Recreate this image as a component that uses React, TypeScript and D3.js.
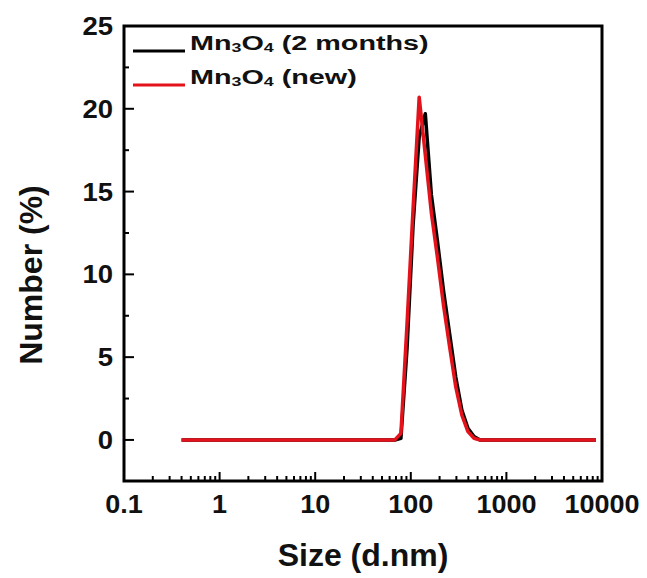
import React from "react";
import * as d3 from "d3";

// DLS size classes (d.nm)
const sizes = [
  0.4, 0.4632, 0.5365, 0.6213, 0.7195, 0.8332, 0.9649, 1.117, 1.294, 1.499,
  1.736, 2.01, 2.328, 2.696, 3.122, 3.615, 4.187, 4.849, 5.615, 6.503,
  7.531, 8.721, 10.1, 11.7, 13.54, 15.69, 18.17, 21.04, 24.36, 28.21,
  32.67, 37.84, 43.82, 50.75, 58.77, 68.06, 78.82, 91.28, 105.7, 122.4,
  141.8, 164.2, 190.1, 220.2, 255, 295.3, 342, 396.1, 458.7, 531.2,
  615.1, 712.4, 825, 955.4, 1106, 1281, 1484, 1718, 1990, 2305,
  2669, 3091, 3580, 4145, 4801, 5560, 6439, 7456, 8635,
];

// Number (%) - Mn3O4 after 2 months
const twoMonths = [
  0, 0, 0, 0, 0, 0, 0, 0, 0, 0,
  0, 0, 0, 0, 0, 0, 0, 0, 0, 0,
  0, 0, 0, 0, 0, 0, 0, 0, 0, 0,
  0, 0, 0, 0, 0, 0, 0.1, 5.5, 13.0, 18.3,
  19.7, 14.8, 12.0, 9.0, 6.4, 3.8, 1.8, 0.7, 0.2, 0,
  0, 0, 0, 0, 0, 0, 0, 0, 0, 0,
  0, 0, 0, 0, 0, 0, 0, 0, 0,
];

// Number (%) - Mn3O4 new
const fresh = [
  0, 0, 0, 0, 0, 0, 0, 0, 0, 0,
  0, 0, 0, 0, 0, 0, 0, 0, 0, 0,
  0, 0, 0, 0, 0, 0, 0, 0, 0, 0,
  0, 0, 0, 0, 0, 0, 0.4, 7.0, 14.0, 20.7,
  17.2, 13.7, 11.0, 8.1, 5.6, 3.2, 1.5, 0.5, 0.1, 0,
  0, 0, 0, 0, 0, 0, 0, 0, 0, 0,
  0, 0, 0, 0, 0, 0, 0, 0, 0,
];

const xMajor = [0.1, 1, 10, 100, 1000, 10000];
const xLabels = ["0.1", "1", "10", "100", "1000", "10000"];
const yMajor = [0, 5, 10, 15, 20, 25];
const yMinor = [2.5, 7.5, 12.5, 17.5, 22.5];

const series = [
  { name: "(2 months)", values: twoMonths, color: "#000000" },
  { name: "(new)", values: fresh, color: "#e3121b" },
];

const font = "'Liberation Sans', Arial, sans-serif";

const App = () => {
  const W = 647;
  const H = 578;
  const left = 124;
  const right = 602;
  const top = 26;
  const bottom = 481;

  const x = d3.scaleLog().domain([0.1, 10000]).range([left, right]);
  const y = d3.scaleLinear().domain([-2.48, 25]).range([bottom, top]);

  const xMinor = x.ticks().filter((t) => !xMajor.some((m) => Math.abs(m - t) < 1e-9));

  const line = (vals: number[]) =>
    d3
      .line<number>()
      .x((_, i) => x(sizes[i]))
      .y((d) => y(d))(vals) || "";

  return (
    <div style={{ position: "fixed", left: 0, top: 0 }}>
      <svg width={W} height={H} style={{ display: "block", background: "#fff" }}>
        {/* curves */}
        {series.map((s) => (
          <path
            key={s.name}
            d={line(s.values)}
            fill="none"
            stroke={s.color}
            strokeWidth={3.5}
            strokeLinejoin="round"
          />
        ))}

        {/* x ticks, pointing inward */}
        {xMinor.map((t) => (
          <line key={"xm" + t} x1={x(t)} x2={x(t)} y1={bottom} y2={bottom - 5} stroke="#000" strokeWidth={2} />
        ))}
        {xMajor.map((t, i) => (
          <g key={"xM" + t}>
            <line x1={x(t)} x2={x(t)} y1={bottom} y2={bottom - 9} stroke="#000" strokeWidth={2} />
            <text
              transform={`translate(${x(t)},513) scale(1.08,1)`}
              textAnchor="middle"
              fontFamily={font}
              fontSize={25}
              fontWeight="bold"
              fill="#111"
            >
              {xLabels[i]}
            </text>
          </g>
        ))}

        {/* y ticks */}
        {yMinor.map((t) => (
          <line key={"ym" + t} x1={left} x2={left + 5} y1={y(t)} y2={y(t)} stroke="#000" strokeWidth={2} />
        ))}
        {yMajor.map((t) => (
          <g key={"yM" + t}>
            <line x1={left} x2={left + 10} y1={y(t)} y2={y(t)} stroke="#000" strokeWidth={2} />
            <text
              transform={`translate(113,${y(t)}) scale(1.1,1)`}
              dy="0.36em"
              textAnchor="end"
              fontFamily={font}
              fontSize={25}
              fontWeight="bold"
              fill="#111"
            >
              {t}
            </text>
          </g>
        ))}

        {/* frame */}
        <rect
          x={left}
          y={top}
          width={right - left}
          height={bottom - top}
          fill="none"
          stroke="#000"
          strokeWidth={3}
        />

        {/* legend */}
        {series.map((s, i) => (
          <g key={"lg" + s.name} transform={`translate(0,${i * 34})`}>
            <line x1={133} x2={185} y1={51} y2={51} stroke={s.color} strokeWidth={3} />
            <text
              transform="translate(190,50) scale(1.37,1)"
              fontFamily={font}
              fontSize={21}
              fontWeight="bold"
              fill="#111"
            >
              Mn
              <tspan fontSize={13} dy={1.5}>3</tspan>
              <tspan dy={-1.5}>O</tspan>
              <tspan fontSize={13} dy={1.5}>4</tspan>
              <tspan dy={-1.5}> {s.name}</tspan>
            </text>
          </g>
        ))}

        {/* axis titles */}
        <text x={363} y={566} textAnchor="middle" fontFamily={font} fontSize={32} fontWeight="bold" fill="#111">
          Size (d.nm)
        </text>
        <text
          transform="translate(42,275) rotate(-90)"
          textAnchor="middle"
          fontFamily={font}
          fontSize={32}
          fontWeight="bold"
          fill="#111"
        >
          Number (%)
        </text>
      </svg>
    </div>
  );
};

export default App;
